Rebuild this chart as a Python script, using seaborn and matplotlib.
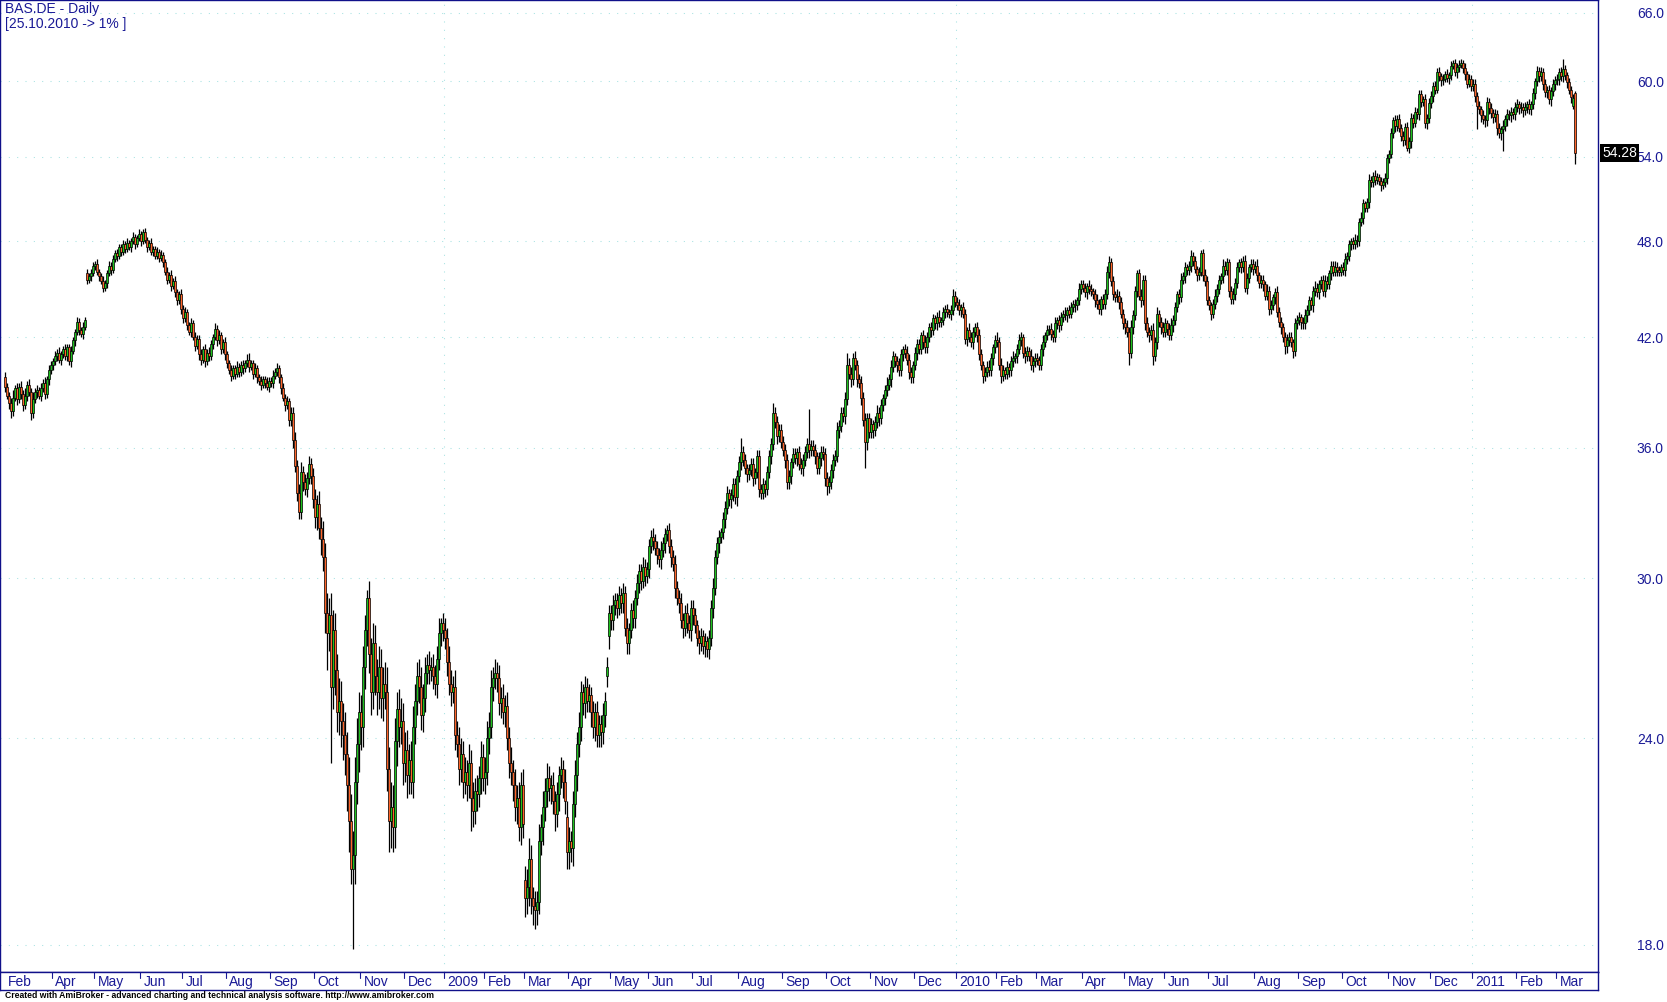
import numpy as np
import matplotlib
matplotlib.use("Agg")
import matplotlib.pyplot as plt
import matplotlib.transforms as mtransforms
import seaborn as sns

# -----------------------------
# Data (BAS.DE daily)
# -----------------------------
month_labels = ["Feb", "Apr", "May", "Jun", "Jul", "Aug", "Sep", "Oct", "Nov", "Dec",
                "2009", "Feb", "Mar", "Apr", "May", "Jun", "Jul", "Aug", "Sep", "Oct", "Nov", "Dec",
                "2010", "Feb", "Mar", "Apr", "May", "Jun", "Jul", "Aug", "Sep", "Oct", "Nov", "Dec",
                "2011", "Feb", "Mar"]
month_days = [24, 21, 23, 21, 22, 22, 22, 23, 22, 20, 20, 20, 22, 21, 19, 22, 23, 22, 22,
              22, 22, 21, 20, 20, 23, 21, 20, 22, 23, 22, 22, 23, 21, 21, 22, 20, 10]

y_ticks = [18.0, 24.0, 30.0, 36.0, 42.0, 48.0, 54.0, 60.0, 66.0]

first_open = 39.7
# opens that gap away from the previous close (bar index -> open)
gap_opens = {41: 45.9, 260: 19.7, 281: 21.5, 301: 26.2, 302: 27.7, 784: 58.0, 785: 59.0}

close = [
    39.2, 38.7, 38.3, 37.9, 38.6, 39.1, 38.5, 39.2, 38.8, 38.2, 38.7, 39.3, 38.9, 37.8, 38.5, 38.9, 39.0, 38.7, 39.1, 39.4, 38.8, 39.6, 40.1, 40.4,
    40.6, 40.9, 41.1, 40.7, 41.0, 41.3, 40.9, 41.4, 40.6, 41.2, 41.8, 42.3, 42.9, 42.4, 42.2, 42.6, 43.0, 45.5, 45.7, 45.9, 46.4,
    46.5, 46.0, 45.7, 45.4, 45.0, 45.3, 45.9, 46.4, 46.1, 46.8, 47.2, 47.0, 47.6, 47.3, 47.8, 47.5, 47.9, 47.6, 48.0, 48.3, 47.8, 48.2, 48.5,
    48.0, 48.6, 48.1, 47.6, 47.9, 47.3, 47.5, 47.0, 47.3, 46.9, 47.1, 46.6, 46.0, 45.5, 45.8, 45.1, 45.4, 44.7, 44.2, 44.6, 43.7,
    43.1, 43.5, 42.7, 42.3, 42.8, 42.0, 41.5, 41.9, 41.0, 40.7, 41.3, 40.6, 41.1, 40.9, 41.6, 42.0, 42.5, 41.8, 42.1, 41.3, 41.7, 41.0,
    40.5, 40.1, 39.8, 40.2, 39.9, 40.3, 40.0, 40.4, 40.2, 40.5, 40.7, 40.3, 40.5, 39.9, 40.2, 39.7, 39.5, 39.3, 39.6, 39.4, 39.2, 39.5,
    39.4, 39.8, 40.0, 40.2, 39.7, 39.1, 38.6, 38.2, 38.4, 37.4, 37.8, 36.4, 35.1, 33.8, 32.9, 34.8, 34.3, 34.0, 34.5, 35.2, 34.6, 33.5,
    32.7, 33.3, 32.2, 31.7, 30.9, 28.6, 27.8, 28.5, 25.8, 27.9, 26.4, 24.9, 25.3, 24.6, 24.1, 23.5, 22.5, 21.4, 20.0, 20.4, 22.6, 23.8, 24.9,
    24.4, 26.5, 27.9, 29.2, 27.0, 25.6, 27.4, 26.2, 25.6, 26.5, 25.4, 25.9, 25.6, 23.0, 21.4, 21.8, 21.2, 23.9, 25.0, 24.4, 24.6, 23.2,
    23.6, 22.8, 23.3, 22.6, 24.4, 25.3, 26.2, 25.8, 24.8, 25.4, 26.3, 26.6, 26.4, 26.5, 26.2, 25.9, 26.8, 27.8, 28.2, 27.9,
    27.6, 26.7, 25.9, 25.6, 25.8, 24.1, 23.8, 23.0, 23.5, 22.6, 22.9, 22.5, 23.2, 22.1, 21.7, 22.3, 22.2, 22.7, 23.4, 22.7,
    22.9, 24.0, 24.4, 25.8, 26.1, 26.3, 26.1, 25.2, 25.4, 24.9, 25.1, 24.0, 23.2, 22.9, 22.5, 21.8, 22.1, 21.2, 22.5, 21.3,
    19.2, 19.5, 20.3, 19.2, 19.0, 18.9, 19.1, 20.8, 21.2, 21.8, 22.3, 22.7, 22.4, 22.5, 22.0, 21.6, 22.2, 22.8, 23.0, 22.6, 22.0, 20.5,
    20.8, 20.6, 21.9, 22.8, 23.8, 24.4, 25.6, 25.2, 25.8, 25.3, 25.5, 24.9, 24.4, 24.9, 24.1, 24.5, 24.2, 24.8, 25.3, 26.5, 28.6,
    28.3, 28.9, 29.1, 28.8, 29.3, 29.0, 29.4, 28.0, 27.4, 27.9, 28.7, 28.4, 29.2, 29.8, 30.3, 29.9, 30.5, 30.1, 30.4,
    31.4, 31.8, 31.6, 31.3, 31.0, 30.8, 31.2, 31.5, 31.9, 32.1, 31.4, 30.9, 30.6, 29.6, 29.2, 29.0, 28.3, 28.0, 28.6, 28.2, 27.9, 28.8,
    28.5, 28.1, 27.6, 27.4, 27.7, 27.3, 27.5, 27.2, 27.6, 28.8, 29.6, 30.9, 31.5, 31.8, 32.0, 32.6, 33.1, 33.8, 33.5, 33.7, 34.2, 33.6, 34.6,
    35.3, 35.8, 35.4, 35.0, 34.7, 34.9, 35.2, 34.5, 34.8, 35.6, 34.0, 33.8, 34.2, 34.0, 34.8, 35.6, 36.2, 37.8, 37.3, 36.6, 36.9, 36.3,
    35.9, 35.4, 34.3, 34.6, 35.3, 35.7, 35.5, 35.8, 35.2, 35.0, 35.4, 35.8, 36.2, 35.9, 36.1, 35.9, 35.6, 35.0, 35.5, 35.8, 35.7, 34.5,
    34.1, 34.3, 34.9, 35.4, 35.6, 36.9, 37.1, 37.8, 37.6, 38.5, 40.4, 39.9, 39.6, 40.8, 40.4, 39.6, 39.4, 38.6, 37.4, 36.3, 37.5, 36.8,
    37.2, 36.9, 37.3, 37.8, 37.5, 38.2, 38.6, 39.0, 39.3, 39.6, 40.3, 40.9, 40.6, 40.4, 40.1, 41.0, 41.3, 41.1, 40.7, 40.0, 39.7, 40.4,
    41.1, 41.6, 41.3, 42.1, 41.7, 41.4, 42.0, 42.6, 42.4, 43.1, 42.8, 43.2, 42.9, 43.0, 43.5, 43.7, 43.5, 43.4, 43.6, 44.5, 44.1,
    43.9, 43.6, 43.8, 43.4, 41.9, 42.4, 42.0, 41.7, 42.3, 42.6, 42.1, 41.0, 40.4, 39.8, 40.0, 40.3, 40.1, 40.8, 41.4, 41.8,
    41.7, 40.4, 39.8, 40.1, 39.9, 40.3, 40.1, 40.6, 40.8, 40.9, 41.3, 41.8, 42.0, 41.1, 40.9, 41.2, 40.9, 40.4, 40.6, 40.8,
    40.7, 40.4, 41.3, 41.7, 42.1, 42.4, 42.5, 42.2, 42.0, 42.8, 43.0, 42.7, 43.2, 43.4, 43.3, 43.6, 43.4, 43.8, 44.0, 43.9, 44.2, 44.9, 45.2,
    45.0, 44.7, 45.1, 44.9, 44.8, 44.6, 44.2, 44.0, 43.7, 44.3, 44.0, 44.6, 46.0, 46.6, 45.4, 44.6, 44.4, 44.5, 44.1, 43.4, 42.8,
    42.6, 42.3, 41.1, 42.6, 43.3, 44.8, 45.9, 44.5, 44.2, 45.5, 42.8, 42.3, 42.1, 42.4, 40.9, 41.7, 43.4, 42.9, 42.6, 42.3,
    42.8, 42.5, 42.1, 42.7, 43.0, 43.8, 44.6, 44.4, 45.5, 45.7, 46.3, 46.1, 46.4, 47.0, 46.7, 46.2, 45.8, 46.0, 47.2, 45.8, 45.4, 44.2,
    43.9, 43.4, 44.0, 44.5, 44.9, 45.5, 45.7, 46.4, 46.1, 46.6, 44.8, 44.3, 44.6, 45.3, 46.3, 46.6, 46.3, 46.7, 45.0, 45.6, 46.3, 46.5, 46.2,
    46.4, 45.8, 45.3, 45.5, 45.2, 44.5, 44.8, 43.7, 43.9, 44.4, 44.7, 43.5, 42.9, 42.6, 42.0, 41.5, 41.8, 42.0, 41.7, 41.2, 42.8, 43.0,
    43.2, 42.9, 42.8, 43.3, 43.6, 44.2, 43.9, 44.8, 45.0, 44.7, 45.2, 45.5, 44.8, 45.4, 45.2, 45.9, 46.4, 46.0, 46.3, 46.1, 46.0, 46.3,
    46.1, 46.8, 47.0, 47.8, 48.0, 47.8, 48.1, 48.0, 49.3, 49.6, 50.6, 50.3, 50.7, 52.3, 52.1, 52.6, 52.3, 52.5, 52.2, 51.9, 52.1, 52.4, 53.9,
    54.2, 55.8, 56.8, 56.4, 56.9, 56.2, 55.6, 55.3, 56.3, 54.7, 55.2, 57.0, 56.6, 57.5, 57.3, 58.9, 58.3, 58.5, 56.6, 57.0, 58.2,
    58.8, 59.6, 59.3, 60.8, 60.4, 60.1, 60.2, 60.6, 60.3, 60.5, 61.3, 61.5, 60.8, 61.2, 61.4, 61.5, 61.1, 60.6, 59.8, 60.2, 59.6,
    59.8, 58.8, 58.0, 57.7, 57.2, 56.9, 56.8, 58.3, 57.8, 57.4, 57.1, 57.3, 56.2, 55.8, 56.1, 56.4, 56.9, 57.3, 57.2, 57.5, 57.3, 57.9,
    58.1, 57.8, 57.9, 57.6, 57.9, 58.1, 57.7, 58.1, 59.0, 60.0, 60.9, 60.4, 60.8, 59.8, 59.1, 59.3, 58.5, 59.2, 59.8, 60.1,
    60.2, 60.8, 60.4, 61.0, 60.5, 59.9, 59.3, 58.7, 58.6, 54.28,
]

# wick lengths above / below the body, in tenths of a euro
wick_up = [
    3, 2, 2, 3, 4, 2, 3, 2, 3, 2, 4, 2, 3, 2, 4, 2, 3, 2, 3, 2, 3, 2, 3, 2,
    2, 3, 2, 3, 2, 2, 3, 2, 2, 3, 2, 2, 3, 2, 2, 3, 2, 3, 2, 3, 2,
    2, 3, 2, 2, 3, 2, 2, 3, 2, 3, 2, 3, 2, 2, 3, 2, 3, 2, 2, 3, 2, 2, 3,
    2, 2, 3, 2, 2, 3, 2, 2, 3, 2, 3, 2, 2, 3, 2, 3, 2, 3, 2, 2, 3,
    2, 3, 2, 2, 3, 2, 3, 2, 2, 3, 2, 3, 2, 3, 2, 2, 3, 2, 3, 2, 2, 3,
    2, 2, 3, 2, 2, 3, 2, 2, 3, 2, 3, 4, 2, 2, 3, 2, 2, 3, 2, 2, 3, 2,
    2, 3, 2, 3, 2, 2, 3, 2, 3, 2, 3, 3, 4, 3, 4, 5, 3, 4, 3, 4, 3, 4,
    5, 4, 6, 5, 8, 6, 8, 7, 9, 8, 7, 6, 8, 7, 6, 8, 7, 9, 8, 7, 8, 9, 7,
    6, 8, 6, 3, 7, 6, 8, 7, 6, 8, 7, 6, 8, 9, 7, 8, 7, 8, 6, 7, 8, 6,
    6, 7, 5, 6, 7, 6, 5, 6, 7, 5, 6, 4, 5, 4, 5, 4, 5, 6, 2, 4,
    5, 4, 6, 5, 4, 6, 5, 6, 5, 4, 5, 4, 6, 4, 5, 4, 5, 4, 5, 4,
    5, 6, 5, 6, 4, 5, 4, 5, 4, 5, 4, 5, 4, 5, 4, 5, 4, 5, 4, 5,
    4, 5, 6, 4, 3, 4, 3, 5, 4, 5, 4, 5, 4, 3, 4, 3, 4, 3, 4, 3, 4, 5,
    4, 3, 4, 5, 4, 5, 4, 3, 4, 3, 4, 3, 4, 3, 4, 3, 3, 4, 3, 4, 3,
    3, 4, 3, 3, 4, 3, 4, 3, 4, 3, 3, 4, 3, 4, 3, 3, 4, 3, 3,
    3, 3, 4, 3, 3, 3, 4, 3, 3, 2, 3, 3, 3, 4, 3, 3, 4, 3, 3, 4, 3, 3,
    3, 3, 2, 3, 3, 2, 3, 2, 3, 3, 4, 3, 3, 3, 2, 3, 3, 3, 2, 3, 3, 3, 3,
    3, 7, 3, 3, 2, 3, 3, 3, 2, 3, 3, 2, 3, 2, 3, 3, 3, 5, 3, 3, 3, 3,
    3, 3, 3, 3, 2, 3, 3, 2, 3, 3, 3, 3, 3, 18, 3, 3, 3, 2, 3, 3, 3, 3,
    3, 3, 3, 3, 3, 4, 3, 3, 3, 4, 7, 4, 4, 3, 4, 3, 3, 4, 3, 4, 3, 3,
    3, 2, 3, 4, 3, 3, 2, 3, 4, 3, 4, 3, 2, 3, 4, 3, 2, 3, 4, 3, 3, 2,
    3, 3, 3, 2, 3, 4, 3, 2, 3, 3, 2, 3, 4, 2, 3, 2, 3, 2, 3, 4, 3,
    3, 4, 2, 3, 3, 2, 4, 3, 3, 2, 3, 4, 3, 2, 3, 3, 4, 3, 2, 3,
    5, 3, 4, 3, 2, 3, 2, 3, 4, 2, 3, 4, 3, 2, 3, 3, 2, 4, 3, 3,
    3, 2, 3, 4, 2, 3, 2, 3, 2, 4, 2, 3, 3, 2, 4, 2, 3, 3, 2, 3, 2, 4, 3,
    3, 3, 2, 4, 3, 2, 3, 4, 3, 2, 3, 3, 4, 4, 3, 3, 2, 4, 3, 3, 3,
    3, 4, 3, 4, 3, 3, 2, 3, 4, 3, 3, 4, 3, 3, 4, 3, 4, 2, 3, 3,
    3, 2, 3, 4, 3, 3, 2, 3, 4, 3, 3, 2, 3, 4, 3, 3, 2, 3, 2, 3, 4, 3,
    3, 2, 3, 4, 3, 3, 2, 4, 3, 3, 2, 3, 4, 3, 3, 2, 3, 3, 4, 3, 2, 3, 3,
    3, 4, 2, 3, 3, 2, 4, 3, 3, 2, 3, 4, 3, 3, 2, 3, 4, 3, 3, 2, 3, 3,
    3, 2, 3, 4, 3, 3, 2, 3, 4, 3, 3, 2, 3, 4, 3, 2, 3, 3, 4, 3, 3, 2,
    3, 4, 3, 3, 2, 3, 4, 3, 3, 4, 3, 2, 3, 4, 3, 3, 4, 3, 2, 3, 3, 4, 3,
    3, 4, 3, 4, 3, 4, 3, 4, 3, 4, 3, 4, 3, 4, 3, 4, 4, 3, 4, 3, 4,
    4, 3, 4, 3, 4, 3, 4, 3, 4, 3, 4, 3, 4, 3, 4, 4, 3, 4, 3, 4, 3,
    4, 4, 3, 4, 3, 4, 3, 4, 3, 4, 3, 4, 3, 4, 3, 4, 3, 4, 3, 4, 3, 4,
    4, 3, 4, 3, 4, 3, 4, 3, 4, 3, 4, 3, 4, 3, 4, 3, 4, 3, 4, 3,
    4, 3, 4, 9, 4, 3, 4, 3, 3, 2,
]

wick_dn = [
    3, 2, 3, 4, 3, 2, 3, 2, 3, 3, 2, 3, 2, 4, 3, 2, 3, 2, 3, 2, 3, 2, 3, 2,
    3, 2, 3, 2, 3, 2, 2, 3, 2, 3, 2, 3, 2, 3, 2, 3, 2, 3, 2, 3, 2,
    3, 2, 3, 2, 3, 2, 3, 2, 3, 2, 2, 3, 2, 3, 2, 3, 2, 2, 3, 2, 3, 2, 2,
    3, 2, 2, 3, 2, 2, 3, 2, 2, 3, 2, 3, 2, 3, 2, 3, 2, 3, 3, 2, 3,
    3, 2, 3, 2, 3, 2, 3, 2, 3, 3, 2, 3, 2, 3, 2, 3, 2, 3, 2, 3, 2, 3,
    3, 2, 3, 2, 3, 2, 3, 2, 3, 2, 2, 3, 2, 3, 2, 3, 2, 3, 2, 3, 2, 3,
    2, 3, 2, 2, 3, 3, 2, 3, 2, 3, 3, 4, 3, 4, 3, 3, 4, 3, 4, 3, 4, 4,
    5, 6, 5, 7, 6, 8, 14, 7, 26, 8, 9, 7, 8, 9, 8, 7, 8, 9, 4, 21, 8, 7, 9,
    8, 7, 8, 6, 7, 8, 6, 7, 8, 6, 7, 8, 6, 7, 9, 8, 7, 6, 8, 7, 6, 7,
    6, 7, 6, 4, 5, 6, 5, 6, 5, 6, 5, 4, 5, 4, 5, 4, 5, 4, 5, 4,
    4, 5, 4, 5, 4, 5, 4, 5, 4, 5, 4, 5, 4, 10, 5, 4, 5, 4, 5, 4,
    5, 4, 5, 4, 5, 4, 5, 4, 5, 4, 5, 4, 5, 4, 5, 4, 5, 4, 5, 4,
    5, 4, 5, 4, 5, 5, 4, 3, 4, 5, 4, 5, 4, 5, 4, 5, 4, 5, 4, 5, 4, 5,
    5, 4, 5, 4, 5, 4, 5, 4, 5, 4, 4, 5, 4, 5, 4, 4, 5, 4, 4, 4, 5,
    4, 4, 4, 4, 3, 4, 4, 3, 4, 4, 3, 4, 4, 3, 4, 4, 3, 4, 3,
    4, 3, 4, 3, 4, 3, 4, 3, 4, 3, 3, 4, 3, 4, 3, 4, 3, 4, 3, 4, 3, 4,
    4, 3, 3, 4, 3, 3, 4, 3, 4, 3, 4, 3, 3, 4, 3, 3, 4, 3, 3, 4, 3, 3, 4,
    3, 4, 3, 3, 4, 3, 3, 4, 3, 3, 4, 3, 3, 4, 3, 3, 4, 3, 3, 4, 3, 3,
    3, 4, 3, 3, 4, 3, 3, 4, 3, 3, 4, 3, 3, 4, 3, 3, 4, 3, 3, 4, 3, 4,
    4, 3, 3, 4, 3, 3, 4, 3, 3, 4, 3, 3, 4, 3, 3, 4, 3, 4, 3, 13, 4, 3,
    3, 4, 3, 3, 4, 3, 3, 4, 3, 3, 4, 3, 3, 4, 3, 3, 4, 3, 3, 4, 3, 3,
    3, 4, 3, 3, 4, 3, 3, 3, 4, 3, 3, 4, 3, 3, 3, 4, 3, 3, 4, 3, 3,
    3, 3, 4, 3, 3, 4, 3, 3, 4, 3, 4, 3, 3, 4, 3, 3, 3, 3, 4, 3,
    3, 3, 4, 3, 3, 3, 4, 3, 3, 3, 4, 3, 3, 3, 4, 3, 3, 3, 4, 3,
    3, 3, 3, 4, 3, 3, 3, 4, 3, 3, 3, 4, 3, 3, 3, 4, 3, 3, 3, 4, 3, 3, 3,
    3, 3, 4, 3, 3, 3, 4, 3, 3, 4, 3, 3, 3, 4, 3, 4, 3, 3, 4, 3, 3,
    4, 3, 7, 3, 4, 3, 4, 3, 4, 3, 4, 3, 4, 3, 5, 3, 4, 3, 4, 3,
    3, 4, 3, 3, 4, 3, 3, 4, 3, 3, 4, 3, 3, 4, 3, 3, 4, 3, 3, 4, 3, 3,
    3, 4, 3, 3, 4, 3, 3, 4, 3, 3, 4, 3, 3, 4, 3, 3, 4, 3, 3, 4, 3, 3, 4,
    3, 4, 3, 3, 4, 3, 3, 4, 3, 3, 4, 3, 3, 4, 3, 5, 4, 3, 3, 4, 3, 3,
    3, 4, 3, 3, 4, 3, 3, 4, 3, 3, 4, 3, 3, 4, 3, 3, 4, 3, 3, 4, 3, 3,
    3, 4, 3, 3, 4, 3, 3, 4, 3, 3, 4, 3, 3, 4, 3, 3, 4, 3, 3, 4, 3, 3, 4,
    4, 3, 4, 5, 4, 3, 4, 5, 4, 3, 4, 5, 4, 3, 4, 5, 4, 3, 4, 5, 4,
    4, 5, 4, 3, 4, 5, 4, 3, 4, 5, 4, 3, 4, 5, 4, 3, 4, 5, 4, 3, 4,
    4, 5, 19, 4, 5, 4, 5, 4, 5, 4, 5, 4, 5, 4, 5, 17, 4, 5, 4, 5, 4, 5,
    4, 5, 4, 5, 4, 5, 4, 5, 4, 5, 4, 5, 4, 5, 4, 5, 4, 5, 4, 5,
    4, 5, 4, 5, 4, 5, 4, 5, 3, 8,
]

# -----------------------------
# Style
# -----------------------------
NAVY = "#1a1a96"
FRAME = "#10108a"
GRID = "#a6e2e2"
UP = "#1ec21e"
DOWN = "#ff6428"

sns.set_theme(style="white")
plt.rcParams["font.family"] = ["Liberation Sans", "DejaVu Sans"]

# -----------------------------
# Build OHLC
# -----------------------------
n = min(len(close), len(wick_up), len(wick_dn))
c = np.array(close[:n], dtype=float)
o = np.concatenate([[first_open], c[:-1]])
for k, v in gap_opens.items():
    if k < n:
        o[k] = v
hi = np.maximum(o, c) + np.array(wick_up[:n]) / 10.0
lo = np.minimum(o, c) - np.array(wick_dn[:n]) / 10.0
x = np.arange(n)
body_colors = np.where(c >= o, UP, DOWN)

month_start = np.concatenate([[0], np.cumsum(month_days)[:-1]])

# -----------------------------
# Figure
# -----------------------------
W, H = 1667, 1002
PLOT_R = 1598
PLOT_B = 972
STRIP_B = 990

fig = plt.figure(figsize=(W / 100, H / 100), dpi=100)
fig.patch.set_facecolor("white")
ax = fig.add_axes([0, 1 - PLOT_B / H, PLOT_R / W, PLOT_B / H])
ax.set_facecolor("white")
ax.set_yscale("log")
ax.set_ylim(17.33, 67.19)
ax.set_xlim(-2.5, 796.5)

for t in y_ticks:
    ax.axhline(t, color=GRID, lw=0.75, ls=(0, (1, 7)), zorder=0)
for lab, pos in zip(month_labels, month_start):
    if lab.isdigit():
        ax.axvline(pos - 0.5, color=GRID, lw=0.75, ls=(0, (1, 7)), zorder=0)

ax.vlines(x, lo, hi, colors="black", lw=0.9, zorder=2)
ax.bar(x, np.maximum(np.abs(c - o), 0.05), bottom=np.minimum(o, c), width=1.45,
       color=body_colors, edgecolor="black", linewidth=0.5, zorder=3)

ax.set_xticks([])
ax.yaxis.tick_right()
ax.yaxis.set_minor_locator(matplotlib.ticker.NullLocator())
ax.set_yticks(y_ticks)
ax.set_yticklabels([f"{t:.1f}" for t in y_ticks])
ax.tick_params(axis="y", length=0, pad=28, labelsize=10, labelcolor=NAVY)
for s in ax.spines.values():
    s.set_color(FRAME)
    s.set_linewidth(1.0)

# date strip
ax2 = fig.add_axes([0, 1 - STRIP_B / H, PLOT_R / W, (STRIP_B - PLOT_B) / H])
ax2.set_xlim(-2.5, 796.5)
ax2.set_ylim(0, 1)
ax2.set_xticks([])
ax2.set_yticks([])
ax2.set_facecolor("white")
for s in ax2.spines.values():
    s.set_color(FRAME)
    s.set_linewidth(1.0)
for i, (lab, pos) in enumerate(zip(month_labels, month_start)):
    if i > 0:
        ax2.plot([pos - 0.5, pos - 0.5], [0.68, 1.0], color=NAVY, lw=0.8)
    ax2.text(pos + 1.2, 0.42, lab, fontsize=10, color=NAVY, ha="left", va="center")

# header, footer, last price tag
fig.text(5 / W, 1 - 2 / H, "BAS.DE - Daily", fontsize=10, color=NAVY, ha="left", va="top")
fig.text(5 / W, 1 - 17 / H, "[25.10.2010 -> 1% ]", fontsize=10, color=NAVY, ha="left", va="top")
fig.text(5 / W, 1 - 996 / H,
         "Created with AmiBroker - advanced charting and technical analysis software. http://www.amibroker.com",
         fontsize=6.2, fontweight="bold", color="black", ha="left", va="center")

tag_tr = mtransforms.blended_transform_factory(fig.transFigure, ax.transData)
fig.text(1602 / W, c[-1], f"{c[-1]:.2f}", transform=tag_tr, fontsize=10, color="white",
         ha="left", va="center",
         bbox=dict(boxstyle="square,pad=0.12", fc="black", ec="none"))

plt.savefig("out.png", dpi=100, facecolor="white")
plt.close()
